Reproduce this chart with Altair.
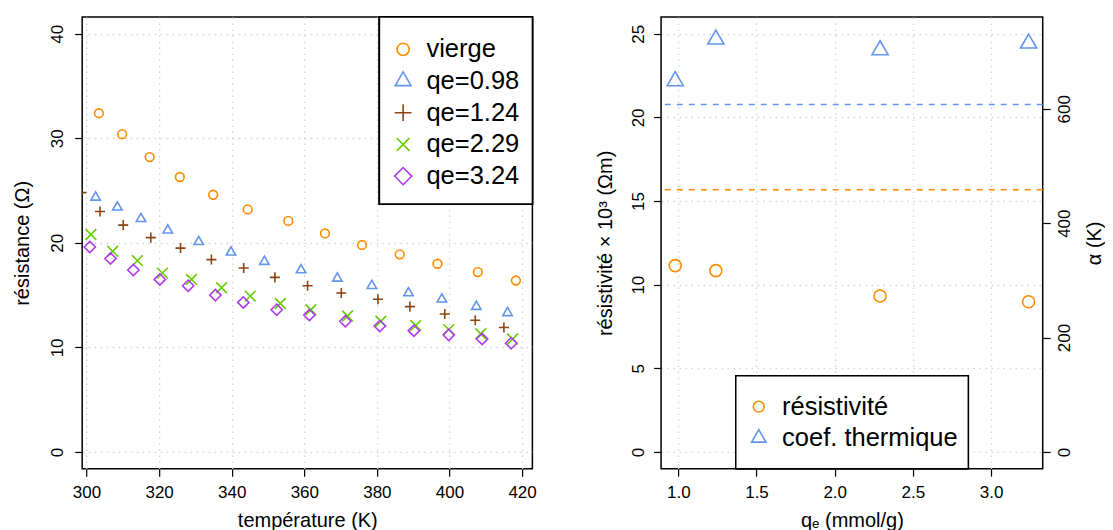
import altair as alt
import pandas as pd

FONT = "Liberation Sans"

# ---------------- left panel data ----------------
series = ["vierge", "qe=0.98", "qe=1.24", "qe=2.29", "qe=3.24"]
colors = ["#FF8C00", "#6495ED", "#8B4513", "#66CD00", "#B23AEE"]

T_vierge = [303.4, 309.8, 317.4, 325.7, 334.9, 344.4, 355.6, 365.7, 375.9, 386.3, 396.7, 407.8, 418.3]
R_vierge = [32.4, 30.4, 28.2, 26.3, 24.6, 23.2, 22.1, 20.9, 19.8, 18.9, 18.0, 17.2, 16.4]

T_098 = [302.5, 308.5, 315.0, 322.4, 330.9, 339.8, 349.0, 359.1, 369.1, 378.6, 388.7, 397.9, 407.4, 416.0]
R_098 = [24.35, 23.4, 22.3, 21.2, 20.1, 19.1, 18.2, 17.4, 16.6, 15.9, 15.2, 14.6, 13.9, 13.3]

T_124 = [298.6, 303.7, 310.1, 317.7, 325.9, 334.4, 343.3, 351.9, 360.9, 370.2, 380.3, 389.1, 398.7, 407.1, 415.0]
R_124 = [24.8, 23.0, 21.7, 20.5, 19.5, 18.4, 17.6, 16.7, 15.9, 15.2, 14.6, 13.9, 13.2, 12.6, 11.9]

T_229 = [301.2, 307.2, 314.0, 320.9, 328.9, 337.2, 345.1, 353.4, 361.8, 371.9, 381.1, 390.7, 399.8, 408.6, 417.4]
R_229 = [20.8, 19.2, 18.3, 17.1, 16.5, 15.7, 14.9, 14.2, 13.6, 13.0, 12.5, 12.1, 11.7, 11.3, 10.8]

T_324 = [300.9, 306.6, 312.9, 320.2, 328.0, 335.5, 343.2, 352.4, 361.4, 371.3, 380.8, 390.2, 399.8, 409.0, 417.0]
R_324 = [19.6, 18.5, 17.4, 16.5, 15.9, 15.0, 14.3, 13.6, 13.1, 12.5, 12.05, 11.6, 11.2, 10.8, 10.4]

x_ticks_left = [300, 320, 340, 360, 380, 400, 420]
y_ticks_left = [0, 10, 20, 30, 40]

# ---------------- right panel data ----------------
qe = [0.98, 1.24, 2.29, 3.24]
resistivite = [11.14, 10.84, 9.32, 8.98]
alpha_coef = [648.6, 721.5, 702.8, 714.5]
rho_ref = [15.67]
alpha_ref = [607.6]
right_series = ["résistivité", "coef. thermique"]

x_ticks_right = [1.0, 1.5, 2.0, 2.5, 3.0]
y_ticks_right = [0, 5, 10, 15, 20, 25]
y2_ticks_right = [0, 200, 400, 600]

# ---------------- styling ----------------
TRI = "M0,-1.155L1,0.577L-1,0.577Z"
PLUS = "M-1,0L1,0M0,-1L0,1"
CROSS = "M-1,-1L1,1M-1,1L1,-1"
shapes = ["circle", TRI, PLUS, CROSS, "diamond"]
plot_sizes = [76, 128, 150, 82, 145]
legend_sizes = [150, 250, 280, 165, 295]

W1, W2, H = 450.3, 381.7, 451.7
SW = 1.6
TFS = 20
LFS = 17

rows = []
for s, ts, rs in zip(series, [T_vierge, T_098, T_124, T_229, T_324],
                     [R_vierge, R_098, R_124, R_229, R_324]):
    for t, r in zip(ts, rs):
        rows.append({"series": s, "T": t, "R": r})
left_df = pd.DataFrame(rows)
leg_df = pd.DataFrame({"series": series})

color_enc = alt.Color("series:N", scale=alt.Scale(domain=series, range=colors), legend=None)
shape_enc = alt.Shape("series:N", scale=alt.Scale(domain=series, range=shapes), legend=None)

x_left = alt.X("T:Q", scale=alt.Scale(domain=[298.8, 422.85], nice=False, zero=False),
               axis=alt.Axis(values=x_ticks_left, title="température (K)", titleX=W1 / 2,
                             titleY=51.5, titleBaseline="middle", labelPadding=7.9, grid=True))
y_left = alt.Y("R:Q", scale=alt.Scale(domain=[-1.6, 41.6], nice=False, zero=False),
               axis=alt.Axis(values=y_ticks_left, title="résistance (Ω)", titleX=-59.5,
                             titleY=H / 2, titleBaseline="middle", titleAngle=270,
                             labelAngle=270, labelAlign="center", labelBaseline="bottom",
                             labelPadding=8.1, grid=True))

pts_left = alt.Chart(left_df).mark_point(filled=False, strokeWidth=SW, clip=True, opacity=1).encode(
    x=x_left, y=y_left, color=color_enc, shape=shape_enc,
    size=alt.Size("series:N", scale=alt.Scale(domain=series, range=plot_sizes), legend=None),
)

leg_box_left = alt.Chart(leg_df).mark_rect(fill="white", stroke="black", strokeWidth=1.5).encode(
    x=alt.value(297.3), x2=alt.value(W1), y=alt.value(0), y2=alt.value(187)
)
row_y_left = [32.3, 64.0, 95.7, 127.4, 159.1]
leg_layers = [leg_box_left]
for i, s in enumerate(series):
    base = alt.Chart(leg_df).transform_filter(alt.datum.series == s)
    leg_layers.append(base.mark_point(filled=False, strokeWidth=SW, opacity=1).encode(
        x=alt.value(321.0), y=alt.value(row_y_left[i]), color=color_enc, shape=shape_enc,
        size=alt.value(legend_sizes[i])))
    leg_layers.append(base.mark_text(align="left", baseline="middle", fontSize=25.5, font=FONT,
                                     color="black").encode(
        x=alt.value(344.3), y=alt.value(row_y_left[i]), text="series:N"))

left = alt.layer(pts_left, *leg_layers).properties(width=W1, height=H)

# ---------------- right panel ----------------
right_df = pd.DataFrame({"qe": qe, "rho": resistivite, "alpha": alpha_coef})
rho_df = pd.DataFrame({"rho": rho_ref})
alpha_df = pd.DataFrame({"alpha": alpha_ref})
rleg_df = pd.DataFrame({"series": right_series})

x_right = alt.X("qe:Q", scale=alt.Scale(domain=[0.8896, 3.3304], nice=False, zero=False),
                axis=alt.Axis(values=x_ticks_right, format=".1f", title="qₑ (mmol/g)",
                              titleX=W2 / 2, titleY=51.5, titleBaseline="middle", labelPadding=7.9,
                              grid=True))
rho_scale = alt.Scale(domain=[-1, 26], nice=False, zero=False)
alpha_scale = alt.Scale(domain=[-29.25, 760.5], nice=False, zero=False)
rho_axis = alt.Axis(values=y_ticks_right, title="résistivité × 10³ (Ωm)", titleX=-55.8,
                    titleY=H / 2, titleBaseline="middle", titleAngle=270, labelAngle=270,
                    labelAlign="center", labelBaseline="bottom", labelPadding=6.4, grid=True)
alpha_axis = alt.Axis(values=y2_ticks_right, orient="right", title="α (K)", titleX=51.5,
                      titleY=H / 2, titleBaseline="middle", titleAngle=270, labelAngle=270,
                      labelAlign="center", labelBaseline="top", labelPadding=6, grid=False)

rho_pts = alt.Chart(right_df).mark_point(shape="circle", filled=False, color=colors[0], size=145,
                                         strokeWidth=SW, opacity=1).encode(
    x=x_right, y=alt.Y("rho:Q", scale=rho_scale, axis=rho_axis))
rho_rule = alt.Chart(rho_df).mark_rule(color=colors[0], strokeDash=[6, 6], strokeWidth=1.5).encode(
    y=alt.Y("rho:Q", scale=rho_scale, axis=rho_axis))

alpha_pts = alt.Chart(right_df).mark_point(shape=TRI, filled=False, color=colors[1], size=260,
                                           strokeWidth=SW, opacity=1).encode(
    x=x_right, y=alt.Y("alpha:Q", scale=alpha_scale, axis=alpha_axis))
alpha_rule = alt.Chart(alpha_df).mark_rule(color=colors[1], strokeDash=[6, 6], strokeWidth=1.5).encode(
    y=alt.Y("alpha:Q", scale=alpha_scale, axis=alpha_axis))

rleg_box = alt.Chart(rleg_df).mark_rect(fill="white", stroke="black", strokeWidth=1.5).encode(
    x=alt.value(74.7), x2=alt.value(307.3), y=alt.value(358.7), y2=alt.value(H))
row_y_right = [389.7, 421.0]
rshapes = ["circle", TRI]
rsizes = [115, 205]
rleg_layers = [rleg_box]
for i, s in enumerate(right_series):
    base = alt.Chart(rleg_df).transform_filter(alt.datum.series == s)
    rleg_layers.append(base.mark_point(shape=rshapes[i], filled=False, color=colors[i], size=rsizes[i],
                                       strokeWidth=SW, opacity=1).encode(
        x=alt.value(97.7), y=alt.value(row_y_right[i])))
    rleg_layers.append(base.mark_text(align="left", baseline="middle", fontSize=25.5, font=FONT,
                                      color="black").encode(
        x=alt.value(121.0), y=alt.value(row_y_right[i]), text="series:N"))

right = alt.layer(
    alt.layer(rho_pts, rho_rule),
    alt.layer(alpha_pts, alpha_rule),
    *rleg_layers,
).resolve_scale(y="independent").properties(width=W2, height=H)

chart = alt.hconcat(left, right, spacing=128, bounds="flush").properties(
    padding={"left": 3.2, "top": 7, "right": 0, "bottom": 0}
).configure(font=FONT).configure_view(
    stroke="black", strokeWidth=1.5
).configure_axis(
    labelFont=FONT, titleFont=FONT, labelFontSize=LFS, titleFontSize=TFS,
    labelColor="black", titleColor="black", titleFontWeight="normal",
    tickColor="black", tickSize=7.5, tickWidth=1.2, domain=False,
    gridColor="#D3D3D3", gridDash=[1.5, 4.5], gridWidth=1.3,
    labelFlush=False, labelOverlap=False,
)

chart.save("out.html", embed_options={"renderer": "svg", "actions": False})
